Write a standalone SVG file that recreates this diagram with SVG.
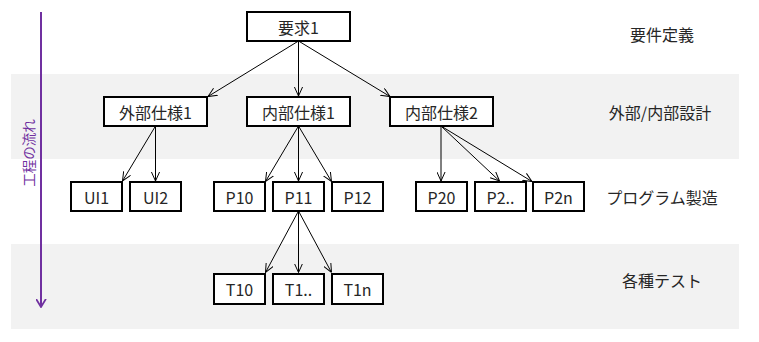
<svg xmlns="http://www.w3.org/2000/svg" width="759" height="342" viewBox="0 0 759 342">
<style>
.band{fill:#f2f2f2}
.box{fill:#fff;stroke:#000;stroke-width:2}
.t{font-family:"Noto Sans CJK JP","Noto Sans",sans-serif;font-size:16px;fill:#262626;text-anchor:middle;dominant-baseline:central}
.lbl{font-family:"Noto Sans CJK JP","Noto Sans",sans-serif;font-size:16px;fill:#262626;text-anchor:middle;dominant-baseline:central}
.c{stroke:#000;stroke-width:1;fill:none;marker-end:url(#ah)}
</style>
<defs>
<marker id="ah" viewBox="0 0 10 10" refX="10" refY="5" markerWidth="9" markerHeight="9" markerUnits="userSpaceOnUse" orient="auto">
<path d="M0,0.5 L10,5 L0,9.5" fill="none" stroke="#000" stroke-width="1.1"/>
</marker>
<marker id="pah" viewBox="0 0 10 12" refX="9" refY="6" markerWidth="9" markerHeight="11" markerUnits="userSpaceOnUse" orient="auto">
<path d="M0,0.5 L9,6 L0,11.5" fill="none" stroke="#7030A0" stroke-width="2"/>
</marker>
</defs>
<g id="bands">
<rect class="band" x="11" y="74" width="728" height="85"/>
<rect class="band" x="11" y="244" width="728" height="85"/>
</g>
<g id="flow">
<line x1="41" y1="12" x2="41" y2="307" stroke="#7030A0" stroke-width="2" marker-end="url(#pah)"/>
<text transform="translate(28,153) rotate(-90)" font-family="'Noto Sans CJK JP',sans-serif" font-size="13.5" fill="#7030A0" text-anchor="middle" dominant-baseline="central">工程の流れ</text>
</g>
<g id="phases">
<text class="lbl" x="662" y="34">要件定義</text>
<text class="lbl" x="660" y="112">外部/内部設計</text>
<text class="lbl" x="662" y="197">プログラム製造</text>
<text class="lbl" x="662" y="280">各種テスト</text>
</g>
<g id="connectors">
<line class="c" x1="298.5" y1="41" x2="208" y2="96.5"/>
<line class="c" x1="298.5" y1="41" x2="298.5" y2="96"/>
<line class="c" x1="298.5" y1="41" x2="390" y2="96.5"/>
<line class="c" x1="155.5" y1="126" x2="122.5" y2="181"/>
<line class="c" x1="155.5" y1="126" x2="155.5" y2="181"/>
<line class="c" x1="298.5" y1="126" x2="265.5" y2="181.5"/>
<line class="c" x1="298.5" y1="126" x2="298.5" y2="181"/>
<line class="c" x1="298.5" y1="126" x2="331.5" y2="181.5"/>
<line class="c" x1="441" y1="126" x2="441" y2="181"/>
<line class="c" x1="441" y1="126" x2="499.5" y2="181"/>
<line class="c" x1="441" y1="126" x2="532" y2="181.5"/>
<line class="c" x1="298.5" y1="211" x2="265.5" y2="272.5"/>
<line class="c" x1="298.5" y1="211" x2="298.5" y2="272.5"/>
<line class="c" x1="298.5" y1="211" x2="331.5" y2="272.5"/>
</g>
<g id="n-req1"><rect class="box" x="247" y="12" width="103" height="29"/><text class="t" x="298.5" y="26.5">要求1</text></g>
<g id="n-ext1"><rect class="box" x="104" y="97" width="103" height="29"/><text class="t" x="155.5" y="111.5">外部仕様1</text></g>
<g id="n-int1"><rect class="box" x="247" y="97" width="103" height="29"/><text class="t" x="298.5" y="111.5">内部仕様1</text></g>
<g id="n-int2"><rect class="box" x="390" y="97" width="103" height="29"/><text class="t" x="441.5" y="111.5">内部仕様2</text></g>
<g id="n-ui1"><rect class="box" x="71" y="182" width="51" height="29"/><text class="t" x="96.5" y="196.5">UI1</text></g>
<g id="n-ui2"><rect class="box" x="130" y="182" width="51" height="29"/><text class="t" x="155.5" y="196.5">UI2</text></g>
<g id="n-p10"><rect class="box" x="214" y="182" width="51" height="29"/><text class="t" x="239.5" y="196.5">P10</text></g>
<g id="n-p11"><rect class="box" x="273" y="182" width="51" height="29"/><text class="t" x="298.5" y="196.5">P11</text></g>
<g id="n-p12"><rect class="box" x="332" y="182" width="51" height="29"/><text class="t" x="357.5" y="196.5">P12</text></g>
<g id="n-p20"><rect class="box" x="416" y="182" width="51" height="29"/><text class="t" x="441.5" y="196.5">P20</text></g>
<g id="n-p2x"><rect class="box" x="475" y="182" width="51" height="29"/><text class="t" x="500.5" y="196.5">P2..</text></g>
<g id="n-p2n"><rect class="box" x="533" y="182" width="51" height="29"/><text class="t" x="558.5" y="196.5">P2n</text></g>
<g id="n-t10"><rect class="box" x="214" y="274" width="51" height="30"/><text class="t" x="239.5" y="289">T10</text></g>
<g id="n-t1x"><rect class="box" x="273" y="274" width="51" height="30"/><text class="t" x="298.5" y="289">T1..</text></g>
<g id="n-t1n"><rect class="box" x="332" y="274" width="51" height="30"/><text class="t" x="357.5" y="289">T1n</text></g>
</svg>
